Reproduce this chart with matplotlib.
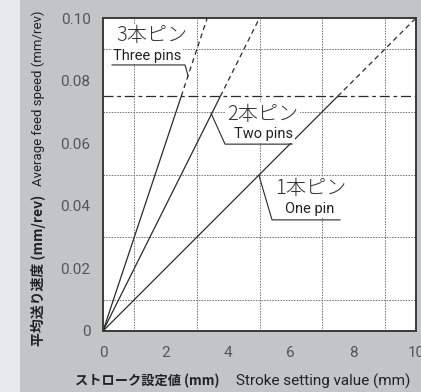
import numpy as np
import matplotlib
matplotlib.use('Agg')
from matplotlib import pyplot as plt
from matplotlib.patches import Rectangle

# data
one_pin_stroke = [0, 7.5, 10]
one_pin_speed = [0, 0.075, 0.10]
two_pin_stroke = [0, 3.75, 5.0]
two_pin_speed = [0, 0.075, 0.10]
three_pin_stroke = [0, 2.5, 3.33]
three_pin_speed = [0, 0.075, 0.10]
speed_limit = 0.075

x_ticks = [0, 2, 4, 6, 8, 10]
y_ticks = [0, 0.02, 0.04, 0.06, 0.08, 0.10]
y_tick_labels = ['0', '0.02', '0.04', '0.06', '0.08', '0.10']

JP = ['Noto Sans CJK JP', 'DejaVu Sans']
NARROW = ['Roboto', 'DejaVu Sans']
INK = '#2a2a2a'

fig = plt.figure(figsize=(4.21, 3.92), dpi=100, facecolor='#c3c4c6')
fig.patches.append(Rectangle((0, 0), 20 / 421, 1, transform=fig.transFigure,
                             facecolor='#e8e9ea', edgecolor='none', zorder=0))

ax = fig.add_axes([103 / 421, 1 - 331 / 392, 313 / 421, 313 / 392])
ax.set_facecolor('white')
ax.set_xlim(0, 10)
ax.set_ylim(0, 0.10)

# grid
ax.set_xticks(np.arange(0, 11, 1), minor=True)
ax.set_yticks(np.arange(0, 0.101, 0.01), minor=True)
ax.grid(which='minor', color='#777777', linewidth=0.7, linestyle=(0, (1.6, 1.2)))
ax.set_axisbelow(True)

ax.set_xticks(x_ticks)
ax.set_xticklabels([str(t) for t in x_ticks])
ax.set_yticks(y_ticks)
ax.set_yticklabels(y_tick_labels)
ax.tick_params(which='both', length=0)
ax.tick_params(axis='x', pad=11, labelsize=11, labelcolor='#555555')
ax.tick_params(axis='y', pad=9, labelsize=11, labelcolor='#555555')
for lab in ax.get_xticklabels() + ax.get_yticklabels():
    lab.set_family(['Roboto', 'DejaVu Sans'])

for s in ax.spines.values():
    s.set_linewidth(1.4)
    s.set_color('#3a3a3a')

# lines: solid up to limit, dashed beyond
for xs, ys in [(one_pin_stroke, one_pin_speed),
               (two_pin_stroke, two_pin_speed),
               (three_pin_stroke, three_pin_speed)]:
    ax.plot(xs[:2], ys[:2], color=INK, lw=0.9, solid_capstyle='butt')
    ax.plot(xs[1:], ys[1:], color=INK, lw=0.9, linestyle=(0, (4, 3)))

ax.axhline(speed_limit, color=INK, lw=0.9, linestyle=(0, (8, 3, 3, 3)))

# callouts
box = dict(facecolor='white', edgecolor='none', pad=1.0)
jp_kw = dict(family=JP, fontsize=14.5, fontweight='light', color='#333333',
             ha='center', va='center', bbox=box)
en_kw = dict(family=NARROW, fontsize=10.5, color='#222222',
             ha='center', va='center', bbox=box)

ax.text(1.55, 0.0943, '3本ピン', **jp_kw)
ax.text(1.42, 0.0879, 'Three pins', **en_kw)
ax.plot([0.29, 2.62, 2.72], [0.0850, 0.0850, 0.0815], color=INK, lw=0.8)

ax.text(5.10, 0.0693, '2本ピン', **jp_kw)
ax.text(5.13, 0.0629, 'Two pins', **en_kw)
ax.plot([3.45, 3.90, 6.04], [0.0696, 0.0597, 0.0597], color=INK, lw=0.8)

ax.text(6.65, 0.0454, '1本ピン', **jp_kw)
ax.text(6.61, 0.0390, 'One pin', **en_kw)
ax.plot([4.98, 5.40, 7.57], [0.0498, 0.0355, 0.0355], color=INK, lw=0.8)

# axis titles
fig.text(75 / 421, 1 - 381 / 392, 'ストローク設定値 (mm)', family=JP, fontsize=9.5,
         fontweight='bold', color='#222222', ha='left', va='center')
fig.text(410 / 421, 1 - 381 / 392, 'Stroke setting value (mm)', family=NARROW,
         fontsize=11, color='#222222', ha='right', va='center')
fig.text(38 / 421, 1 - 346 / 392, '平均送り速度 (mm/rev)', family=JP, fontsize=10,
         fontweight='bold', color='#222222', rotation=90, ha='center', va='bottom')
fig.text(38 / 421, 1 - 11 / 392, 'Average feed speed (mm/rev)', family=NARROW,
         fontsize=9.5, color='#222222', rotation=90, ha='center', va='top')

fig.savefig('out.png', dpi=100, facecolor=fig.get_facecolor())
